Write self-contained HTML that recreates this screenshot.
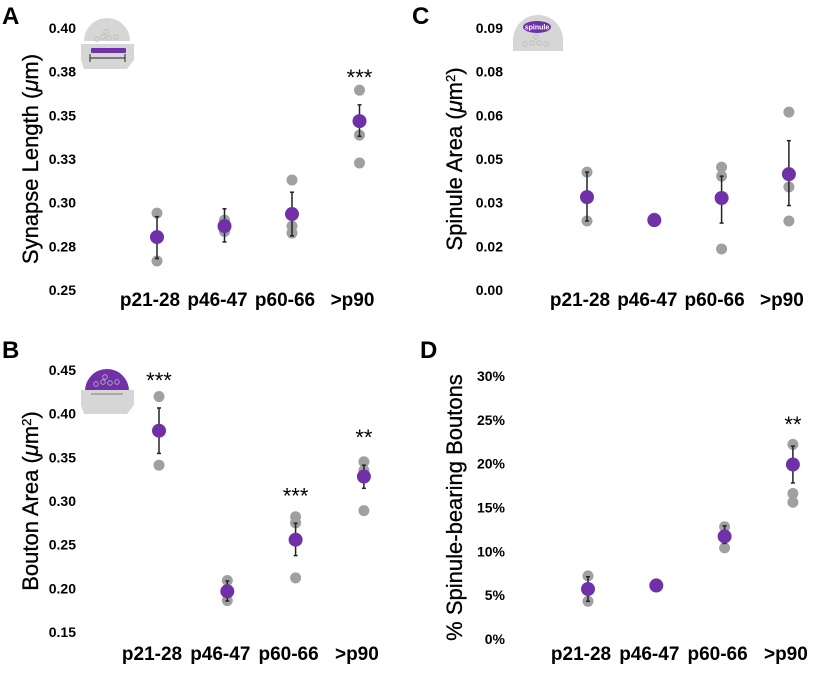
<!DOCTYPE html>
<html><head><meta charset="utf-8"><style>
body{margin:0;background:#fff;width:820px;height:670px;overflow:hidden}
svg{font-family:"Liberation Sans",Arial,sans-serif}
</style></head><body>
<svg id="chart" width="820" height="670"></svg>
<script>
const categories=["p21-28","p46-47","p60-66",">p90"];
// Panel A: synapse length
const aMeans=[0.2803,0.2866,0.2935,0.3467];
const aErrLo=[0.2680,0.2775,0.2810,0.3380];
const aErrHi=[0.2920,0.2965,0.3060,0.3560];
const aPoints=[[0.294,0.2666],[0.2835,0.2900],[0.313,0.2866,0.2826],[0.3644,0.3387,0.3227]];
const aTicks=[0.25,0.275,0.30,0.325,0.35,0.375,0.40];
const aTickLabels=["0.25","0.28","0.30","0.33","0.35","0.38","0.40"];
const aStars=["","","","***"];
// Panel B: bouton area
const bMeans=[0.3805,0.1966,0.2557,0.328];
const bErrLo=[0.3545,0.1855,0.2375,0.3145];
const bErrHi=[0.4065,0.2085,0.2745,0.341];
const bPoints=[[0.4196,0.341],[0.209,0.186],[0.282,0.275,0.212],[0.345,0.335,0.289]];
const bTicks=[0.15,0.20,0.25,0.30,0.35,0.40,0.45];
const bTickLabels=["0.15","0.20","0.25","0.30","0.35","0.40","0.45"];
const bStars=["***","","***","**"];
// Panel C: spinule area
const cMeans=[0.0319,0.0240,0.0316,0.0398];
const cErrLo=[0.0237,0.0235,0.0230,0.0290];
const cErrHi=[0.0405,0.0245,0.0391,0.0513];
const cPoints=[[0.0405,0.0237],[0.0247],[0.0422,0.0391,0.0141],[0.0611,0.0354,0.0237]];
const cTicks=[0,0.015,0.03,0.045,0.06,0.075,0.09];
const cTickLabels=["0.00","0.02","0.03","0.05","0.06","0.08","0.09"];
const cStars=["","","",""];
// Panel D: % spinule-bearing boutons
const dMeans=[5.7,6.1,11.7,19.9];
const dErrLo=[4.3,5.9,10.9,17.8];
const dErrHi=[7.1,6.3,12.9,22.0];
const dPoints=[[7.2,4.3],[6.3,6.0],[12.8,10.4],[22.2,16.6,15.6]];
const dTicks=[0,5,10,15,20,25,30];
const dTickLabels=["0%","5%","10%","15%","20%","25%","30%"];
const dStars=["","","","**"];

const NS="http://www.w3.org/2000/svg";
const svg=document.getElementById("chart");
function mk(tag,attrs,parent){const e=document.createElementNS(NS,tag);for(const k in attrs)e.setAttribute(k,attrs[k]);(parent||svg).appendChild(e);return e;}

function panel(cfg){
  const g=mk("g",{});
  
  
  const t0=cfg.ticks[0],t1=cfg.ticks[cfg.ticks.length-1];
  const y=v=>cfg.yBottom-(v-t0)/(t1-t0)*(cfg.yBottom-cfg.yTop);
  const x=i=>cfg.x0+i*cfg.dx;
  const L=mk("text",{x:cfg.letterX,y:cfg.letterY,"font-size":24,"font-weight":"bold"},g);L.textContent=cfg.letter;
  
  
  const yt=mk("text",{x:0,y:0,"font-size":22,"text-anchor":"middle",stroke:"#000","stroke-width":0.3,transform:`translate(${cfg.titleX},${(cfg.yTop+cfg.yBottom)/2}) rotate(-90)`},g);
  yt.innerHTML=cfg.title;
  
  
  cfg.ticks.forEach((tv,i)=>{
    const t=mk("text",{x:cfg.tickX,y:y(tv)+5,"font-size":14,"font-weight":"bold","text-anchor":"end"},g);
    t.textContent=cfg.tickLabels[i];
    
    
  });
  categories.forEach((c,i)=>{
    const t=mk("text",{x:x(i)-7,y:cfg.catY,"font-size":19,"font-weight":"bold","text-anchor":"middle"},g);
    t.textContent=c;
    
    
    cfg.points[i].forEach(p=>{
      const d=mk("circle",{cx:x(i),cy:y(p),r:5.5,fill:"#a0a0a0"},g);
      
      
    });
    const e=mk("line",{x1:x(i),x2:x(i),y1:y(cfg.lo[i]),y2:y(cfg.hi[i]),stroke:"#222","stroke-width":1.5},g);
    
    
    [cfg.lo[i],cfg.hi[i]].forEach(v=>{mk("line",{x1:x(i)-2,x2:x(i)+2,y1:y(v),y2:y(v),stroke:"#222","stroke-width":1.5},g);});
    const m=mk("circle",{cx:x(i),cy:y(cfg.means[i]),r:7,fill:"#7030a8"},g);
    
    
    if(cfg.stars[i]){
      const s=mk("text",{x:x(i),y:y(cfg.hi[i])-cfg.starGap,"font-size":22,"text-anchor":"middle"},g);
      s.textContent=cfg.stars[i];
      
      
    }
  });
  return g;
}
panel({name:"panel-a-synapse-length",letter:"A",letterX:2,letterY:24,title:"Synapse Length (<tspan font-style='italic'>μ</tspan>m)",titleX:38,tickX:76,ticks:aTicks,tickLabels:aTickLabels,yTop:28,yBottom:290,x0:157,dx:67.5,catY:306,means:aMeans,lo:aErrLo,hi:aErrHi,points:aPoints,stars:aStars,starGap:20});
panel({name:"panel-b-bouton-area",letter:"B",letterX:2,letterY:358,title:"Bouton Area (<tspan font-style='italic'>μ</tspan>m<tspan baseline-shift='super' font-size='13'>2</tspan>)",titleX:38,tickX:76,ticks:bTicks,tickLabels:bTickLabels,yTop:370,yBottom:632,x0:159,dx:68.3,catY:660,means:bMeans,lo:bErrLo,hi:bErrHi,points:bPoints,stars:bStars,starGap:20});
panel({name:"panel-c-spinule-area",letter:"C",letterX:412,letterY:24,title:"Spinule Area (<tspan font-style='italic'>μ</tspan>m<tspan baseline-shift='super' font-size='13'>2</tspan>)",titleX:462,tickX:503,ticks:cTicks,tickLabels:cTickLabels,yTop:28,yBottom:290,x0:587,dx:67.3,catY:306,means:cMeans,lo:cErrLo,hi:cErrHi,points:cPoints,stars:cStars,starGap:20});
panel({name:"panel-d-spinule-bearing",letter:"D",letterX:420,letterY:358,title:"% Spinule-bearing Boutons",titleX:462,tickX:505,ticks:dTicks,tickLabels:dTickLabels,yTop:376,yBottom:639,x0:588,dx:68.3,catY:660,means:dMeans,lo:dErrLo,hi:dErrHi,points:dPoints,stars:dStars,starGap:14});

function icon(html,name){const g=mk("g",{});g.innerHTML=html;}
icon(`<path d="M84 41 A23 23 0 0 1 130 41 Z" fill="#d6d6d6"/>
<circle cx="97" cy="39" r="2.3" fill="none" stroke="#bbb" stroke-width=".8"/><circle cx="103" cy="37" r="2.3" fill="none" stroke="#bbb" stroke-width=".8"/><circle cx="109" cy="38" r="2.3" fill="none" stroke="#bbb" stroke-width=".8"/><circle cx="116" cy="37" r="2.3" fill="none" stroke="#bbb" stroke-width=".8"/><circle cx="106" cy="32" r="2.3" fill="none" stroke="#bbb" stroke-width=".8"/>
<path d="M81 44 L134 44 L134 60 L127 69 L84 69 L81 60 Z" fill="#d6d6d6"/><rect x="91" y="48" width="35" height="5" fill="#7030a8" rx="1"/>
<line x1="90" y1="58" x2="125" y2="58" stroke="#222" stroke-width="1"/><line x1="90" y1="54" x2="90" y2="62" stroke="#222"/><line x1="125" y1="54" x2="125" y2="62" stroke="#222"/>`,"synapse-icon");
icon(`<path d="M85 391 A22 22 0 0 1 129 391 Z" fill="#7030a8"/><circle cx="96" cy="384" r="2.3" fill="none" stroke="#bbb" stroke-width=".8"/><circle cx="103" cy="382" r="2.3" fill="none" stroke="#bbb" stroke-width=".8"/><circle cx="110" cy="383" r="2.3" fill="none" stroke="#bbb" stroke-width=".8"/><circle cx="117" cy="382" r="2.3" fill="none" stroke="#bbb" stroke-width=".8"/><circle cx="105" cy="377" r="2.3" fill="none" stroke="#bbb" stroke-width=".8"/>
<path d="M81 390 L134 390 L134 405 L127 414 L84 414 L81 405 Z" fill="#d6d6d6"/><rect x="91" y="393" width="32" height="2" fill="#aaa"/>`,"bouton-icon");
icon(`<path d="M513 51 L513 40 A25 25 0 0 1 563 40 L563 51 Z" fill="#d6d6d6"/><ellipse cx="537" cy="27" rx="14" ry="6" fill="#7030a8"/><text x="537" y="29.5" font-size="7" font-weight="bold" fill="#fff" text-anchor="middle">spinule</text>
<circle cx="525" cy="44" r="2.3" fill="none" stroke="#bbb" stroke-width=".8"/><circle cx="532" cy="43" r="2.3" fill="none" stroke="#bbb" stroke-width=".8"/><circle cx="539" cy="43" r="2.3" fill="none" stroke="#bbb" stroke-width=".8"/><circle cx="546" cy="44" r="2.3" fill="none" stroke="#bbb" stroke-width=".8"/><circle cx="536" cy="37" r="2.3" fill="none" stroke="#bbb" stroke-width=".8"/>`,"spinule-icon");
</script>
</body></html>
